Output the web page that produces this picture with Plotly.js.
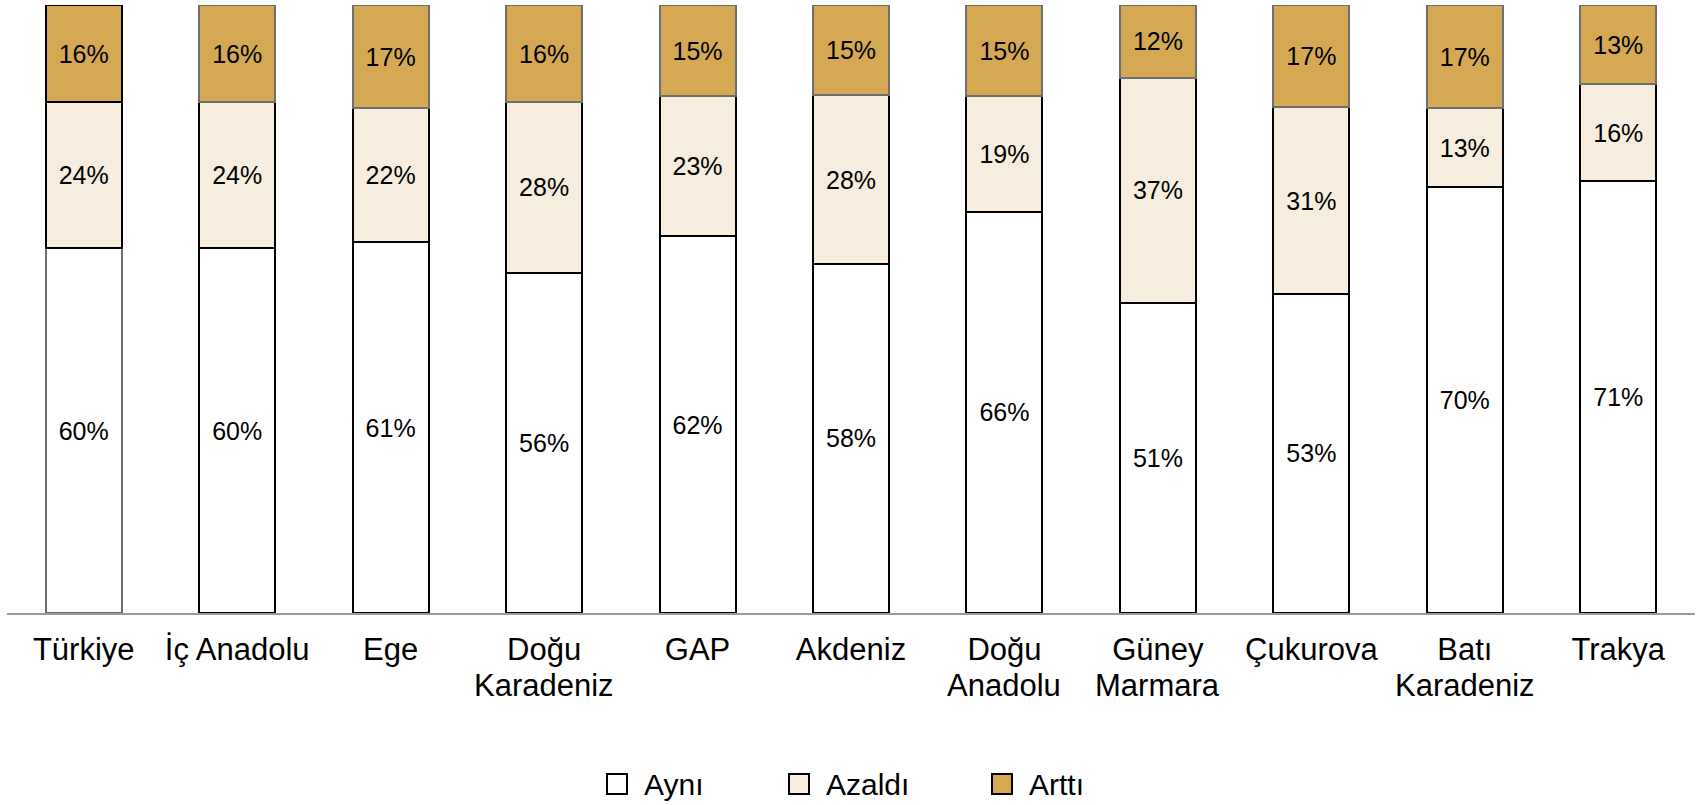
<!DOCTYPE html>
<html>
<head>
<meta charset="utf-8">
<script src="https://cdn.plot.ly/plotly-3.0.1.min.js"></script>
<style>html,body{margin:0;padding:0;background:#fff;}#chart{width:1702px;height:805px;}</style>
</head>
<body>
<div id="chart"></div>
<script>
const categories = ["Türkiye", "İç Anadolu", "Ege", "Doğu Karadeniz", "GAP", "Akdeniz", "Doğu Anadolu", "Güney Marmara", "Çukurova", "Batı Karadeniz", "Trakya"];
const tickLine1 = ["Türkiye", "İç Anadolu", "Ege", "Doğu", "GAP", "Akdeniz", "Doğu", "Güney", "Çukurova", "Batı", "Trakya"];
const tickLine2 = ["", "", "", "Karadeniz", "", "", "Anadolu", "Marmara", "", "Karadeniz", ""];
const ayni   = [60, 60, 61, 56, 62, 58, 66, 51, 53, 70, 71];
const azaldi = [24, 24, 22, 28, 23, 28, 19, 37, 31, 13, 16];
const artti  = [16, 16, 17, 16, 15, 15, 15, 12, 17, 17, 13];
const seriesNames = ["Aynı", "Azaldı", "Arttı"];
const seriesColors = ["#FFFFFF", "#F6EDDE", "#D5A954"];

const FONT = "Liberation Sans, Arial, sans-serif";
const GRAY = "#6e6e6e", BLACK = "#000000";
const lineColors = [
  categories.map((c, i) => i === 0 ? GRAY : BLACK),
  categories.map(() => BLACK),
  categories.map((c, i) => i === 0 ? BLACK : GRAY)
];

function mk(k, vals) {
  return {
    type: "bar", name: seriesNames[k], x: categories, y: vals,
    text: vals.map(v => v + "%"), texttemplate: "%{text}",
    textposition: "inside", insidetextanchor: "middle", textangle: 0,
    textfont: {family: FONT, size: 25, color: "#000"},
    constraintext: "none",
    marker: {color: seriesColors[k], line: {color: lineColors[k], width: 2}},
    hoverinfo: "skip", showlegend: false
  };
}
const data = [mk(0, ayni), mk(1, azaldi), mk(2, artti)];

// geometry of plot area (pixels)
const W = 1702, H = 805, ML = 7, MR = 7, MT = 5, MB = 192;
const PW = W - ML - MR, PH = H - MT - MB;
const px = x => (x - ML) / PW;
const py = y => (H - MB - y) / PH;

const annotations = [];
tickLine2.forEach((t, i) => {
  if (t) annotations.push({
    xref: "x", yref: "paper", x: categories[i], y: 0, yanchor: "middle", yshift: -72,
    text: t, showarrow: false, font: {family: FONT, size: 31, color: "#000"}
  });
});

// legend built from series names / colors
const legBoxX = [607, 789, 992];
const shapes = [];
seriesNames.forEach((nm, k) => {
  shapes.push({
    type: "rect", xref: "paper", yref: "paper",
    x0: px(legBoxX[k]), x1: px(legBoxX[k] + 20), y0: py(794), y1: py(774),
    fillcolor: seriesColors[k], line: {color: BLACK, width: 2}
  });
  annotations.push({
    xref: "paper", yref: "paper", x: px(legBoxX[k] + 35), y: py(784),
    xanchor: "left", yanchor: "middle", showarrow: false, text: nm,
    font: {family: FONT, size: 30, color: "#000"}
  });
});

const layout = {
  width: W, height: H,
  margin: {l: ML, r: MR, t: MT, b: MB},
  barmode: "stack", barnorm: "percent", bargap: 0.505,
  paper_bgcolor: "#fff", plot_bgcolor: "#fff",
  font: {family: FONT, color: "#000"},
  xaxis: {
    type: "category", showline: true, linecolor: "#9a9a9a", linewidth: 2,
    ticks: "", showgrid: false, zeroline: false,
    tickmode: "array", tickvals: categories, ticktext: tickLine1,
    tickfont: {size: 31, color: "#000"}, ticklabelstandoff: 8, automargin: false
  },
  yaxis: {range: [0, 100], visible: false, fixedrange: true},
  showlegend: false,
  annotations: annotations,
  shapes: shapes
};

Plotly.newPlot("chart", data, layout, {displayModeBar: false, staticPlot: true});
</script>
</body>
</html>
